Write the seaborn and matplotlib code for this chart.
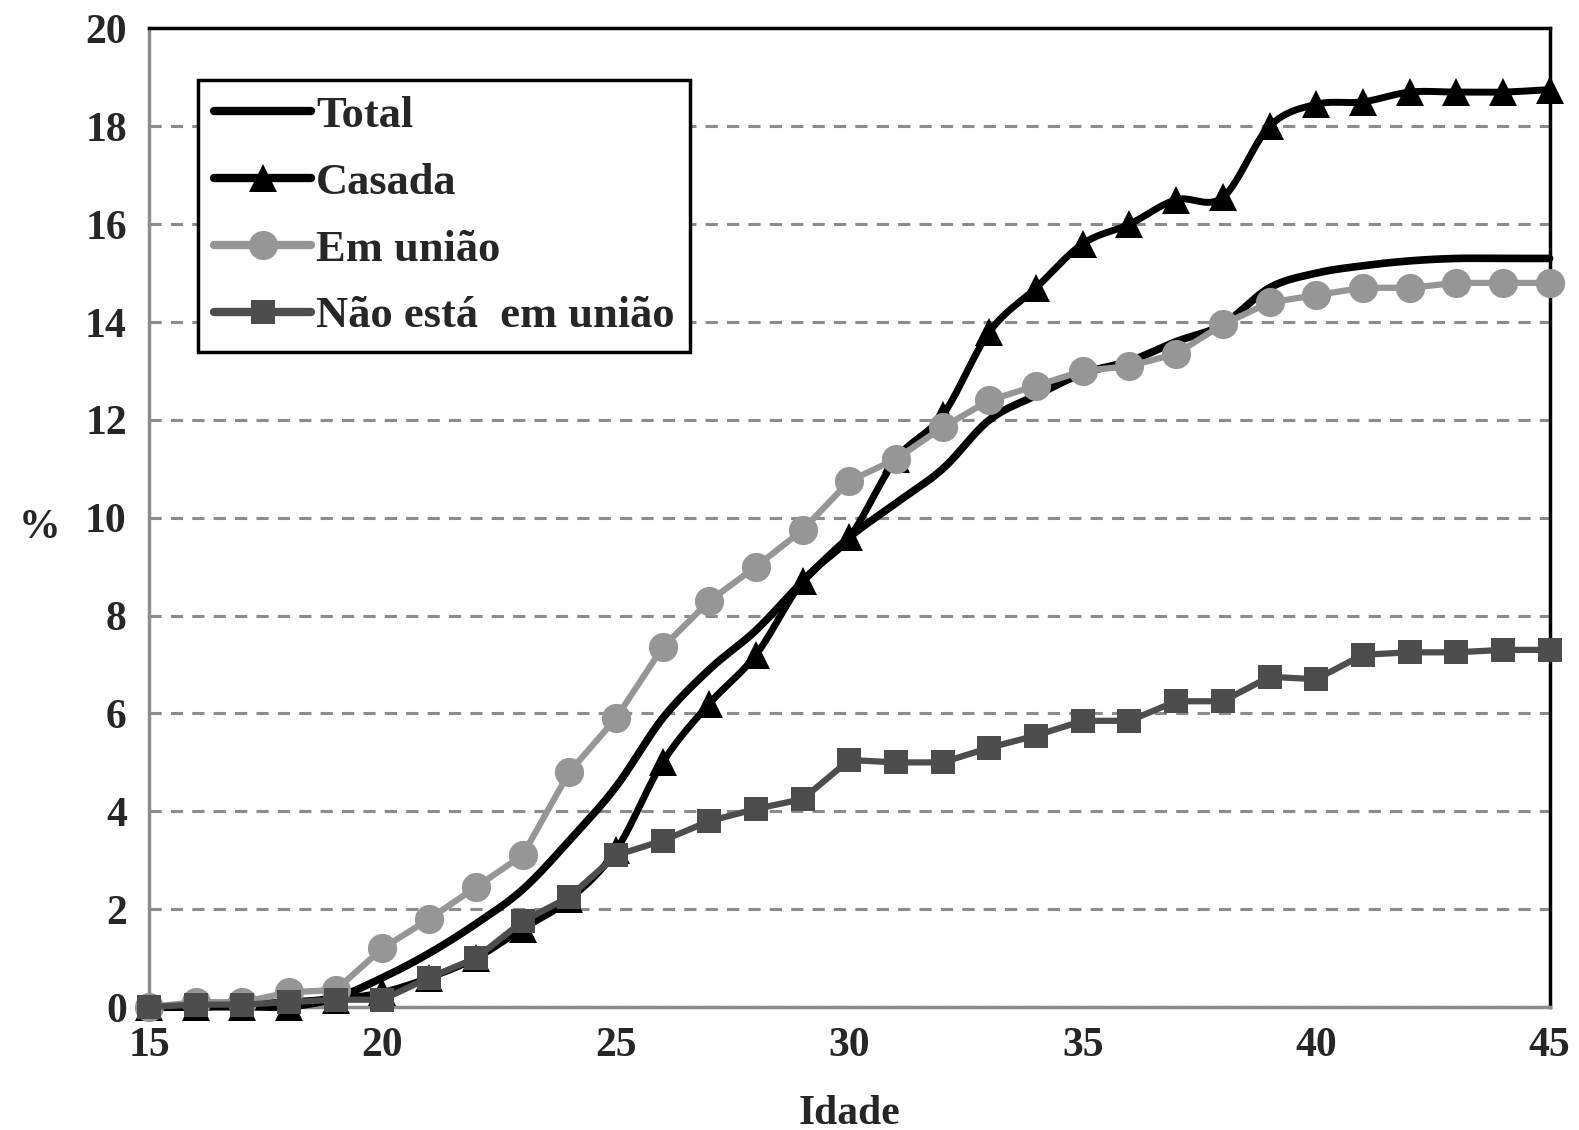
import numpy as np
import pandas as pd
import matplotlib
matplotlib.use('Agg')
import matplotlib.pyplot as plt
from matplotlib.lines import Line2D
import seaborn as sns

# Data (age 15..45, %)
idade = list(range(15, 46))
total = [0.0, 0.0, 0.05, 0.1, 0.2, 0.6, 1.1, 1.7, 2.4, 3.4, 4.5, 5.9, 6.9, 7.7, 8.7, 9.6,
         10.3, 11.0, 12.0, 12.5, 12.95, 13.2, 13.6, 13.95, 14.7, 15.0, 15.15, 15.25, 15.3, 15.3, 15.3]
casada = [0.0, 0.0, 0.0, 0.0, 0.15, 0.3, 0.6, 1.0, 1.6, 2.2, 3.2, 5.0, 6.2, 7.2, 8.7, 9.6,
          11.2, 12.1, 13.8, 14.7, 15.6, 16.0, 16.5, 16.55, 18.0, 18.45, 18.5, 18.7, 18.7, 18.7, 18.75]
em_uniao = [0.0, 0.1, 0.1, 0.3, 0.35, 1.2, 1.8, 2.45, 3.1, 4.8, 5.9, 7.35, 8.3, 9.0, 9.75, 10.75,
            11.2, 11.85, 12.4, 12.7, 13.0, 13.1, 13.35, 13.95, 14.4, 14.55, 14.7, 14.7, 14.8, 14.8, 14.8]
nao_uniao = [0.0, 0.05, 0.05, 0.1, 0.15, 0.15, 0.6, 1.0, 1.75, 2.25, 3.1, 3.4, 3.8, 4.05, 4.25, 5.05,
             5.0, 5.0, 5.3, 5.55, 5.85, 5.85, 6.25, 6.25, 6.75, 6.7, 7.2, 7.25, 7.25, 7.3, 7.3]

df = pd.DataFrame({'Idade': idade, 'Total': total, 'Casada': casada,
                   'Em união': em_uniao, 'Não está  em união': nao_uniao})


def smooth(x, y, n=20):
    # Catmull-Rom curve through the points (Excel-style smoothed line)
    x = np.asarray(x, float)
    y = np.asarray(y, float)
    px = np.concatenate([[x[0]], x, [x[-1]]])
    py = np.concatenate([[y[0]], y, [y[-1]]])
    xs, ys = [], []
    t = np.linspace(0, 1, n, endpoint=False)
    for i in range(1, len(px) - 2):
        p0x, p1x, p2x, p3x = px[i - 1:i + 3]
        p0y, p1y, p2y, p3y = py[i - 1:i + 3]
        b0, b1 = p1x, p1x + (p2x - p0x) / 6
        b2, b3 = p2x - (p3x - p1x) / 6, p2x
        c0, c1 = p1y, p1y + (p2y - p0y) / 6
        c2, c3 = p2y - (p3y - p1y) / 6, p2y
        xs.append((1 - t) ** 3 * b0 + 3 * (1 - t) ** 2 * t * b1 + 3 * (1 - t) * t ** 2 * b2 + t ** 3 * b3)
        ys.append((1 - t) ** 3 * c0 + 3 * (1 - t) ** 2 * t * c1 + 3 * (1 - t) * t ** 2 * c2 + t ** 3 * c3)
    xs.append([x[-1]])
    ys.append([y[-1]])
    return np.concatenate(xs), np.concatenate(ys)


sns.set_style('white')
plt.rcParams['font.family'] = ['Liberation Serif', 'DejaVu Serif']
plt.rcParams['font.weight'] = 'bold'

fig = plt.figure(figsize=(15.79, 11.30), dpi=100)
ax = fig.add_axes([0.0944, 0.1088, 0.887, 0.866])

light = '#969696'
dark = '#4d4d4d'

# Total (smoothed line)
tx, ty = smooth(df['Idade'], df['Total'])
ax.plot(tx, ty, color='black', lw=5.5, zorder=3, solid_capstyle='round', clip_on=False)
# Casada (smoothed line + triangle markers)
sx, sy = smooth(df['Idade'], df['Casada'])
ax.plot(sx, sy, color='black', lw=5, zorder=4, solid_capstyle='round', clip_on=False)
ax.plot(df['Idade'], df['Casada'], ls='none', marker='^', markersize=20, color='black',
        markeredgewidth=0, zorder=4, clip_on=False)
# Em união
sns.lineplot(data=df, x='Idade', y='Em união', ax=ax, color=light, lw=4.5,
             marker='o', markersize=21, markeredgewidth=0, zorder=5, clip_on=False)
# Não está em união
sns.lineplot(data=df, x='Idade', y='Não está  em união', ax=ax, color=dark, lw=4.5,
             marker='s', markersize=17, markeredgewidth=0, zorder=6, clip_on=False)

ax.set_xlim(15, 45)
ax.set_ylim(0, 20)
ax.set_xticks(range(15, 46, 5))
ax.set_yticks(range(0, 21, 2))
ax.yaxis.grid(True, color='#8c8c8c', ls=(0, (4, 3)), lw=2.2)
ax.xaxis.grid(False)

for s in ['left', 'bottom']:
    ax.spines[s].set_color('#8c8c8c')
    ax.spines[s].set_linewidth(2.5)
for s in ['top', 'right']:
    ax.spines[s].set_color('black')
    ax.spines[s].set_linewidth(2.5)

ax.tick_params(axis='both', which='both', direction='out', color='#8c8c8c', width=2.5,
               labelsize=30, length=11)
ax.tick_params(axis='y', pad=5)
ax.tick_params(axis='x', pad=3)
for lab in ax.get_xticklabels() + ax.get_yticklabels():
    lab.set_fontweight('bold')

ax.set_xlabel('Idade', fontsize=30, fontweight='bold')
ax.xaxis.set_label_coords(0.5, -0.09)
ax.set_ylabel('%', fontsize=30, fontweight='bold', rotation=0)
ax.yaxis.set_label_coords(-0.078, 0.49)
ax.yaxis.label.set_verticalalignment('center')

# Legend in original order
handles = [
    Line2D([], [], color='black', lw=6),
    Line2D([], [], color='black', lw=6, marker='^', markersize=20, markeredgewidth=0),
    Line2D([], [], color=light, lw=6, marker='o', markersize=21, markeredgewidth=0),
    Line2D([], [], color=dark, lw=6, marker='s', markersize=17, markeredgewidth=0),
]
labels = ['Total', 'Casada', 'Em união', 'Não está  em união']
leg = ax.legend(handles, labels, loc='upper left', bbox_to_anchor=(0.035, 0.947),
                frameon=True, fancybox=False, edgecolor='black', framealpha=1,
                prop={'size': 32, 'weight': 'bold'}, handlelength=2.2, handletextpad=0.1,
                borderpad=0.35, labelspacing=0.6, borderaxespad=0)
leg.get_frame().set_linewidth(2.5)
leg.set_zorder(20)

fig.savefig('out.png', dpi=100)
